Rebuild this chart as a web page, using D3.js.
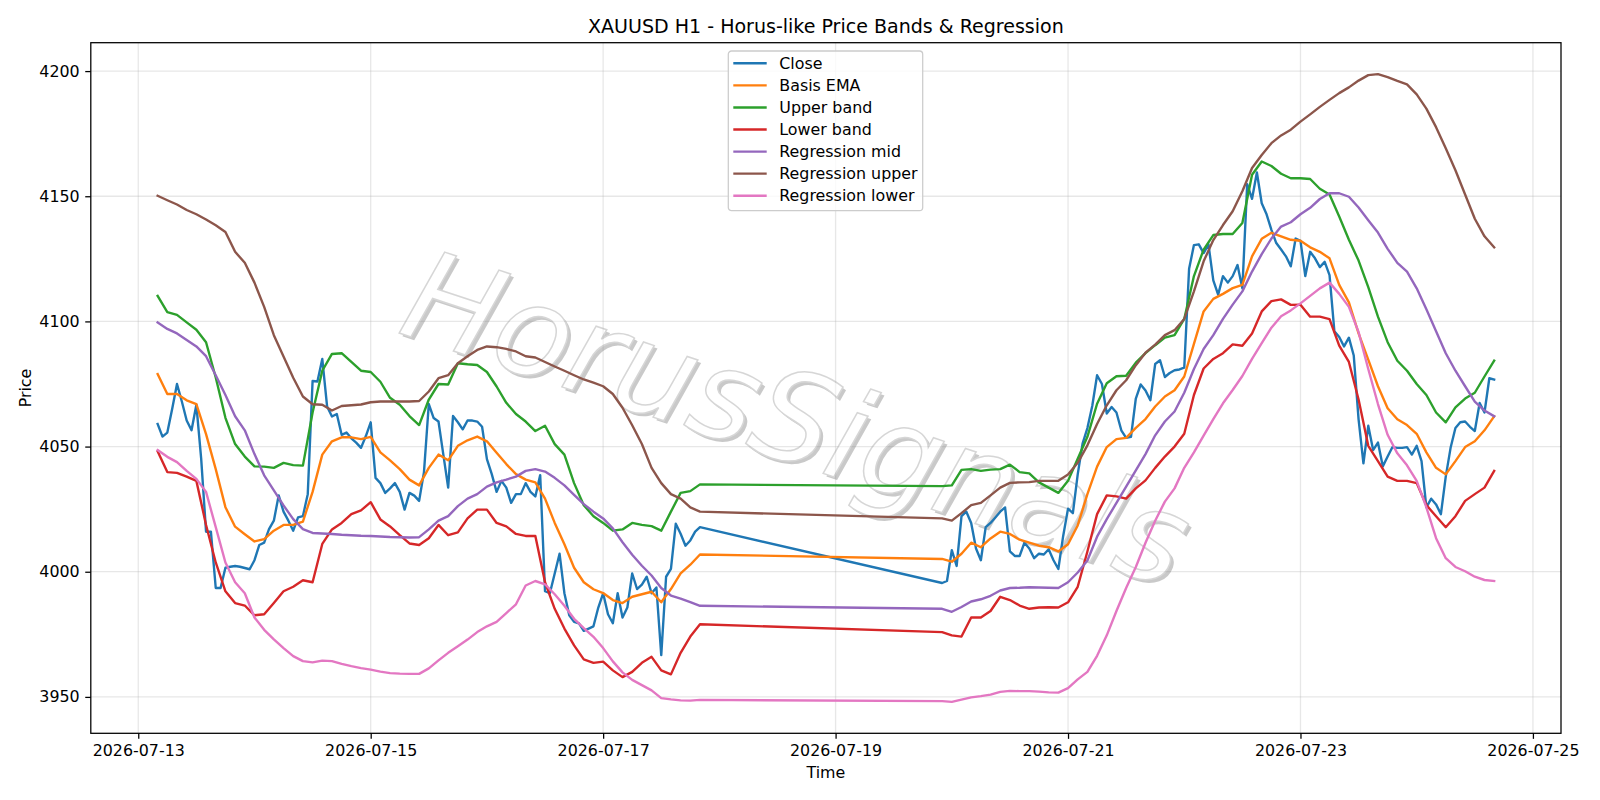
<!DOCTYPE html>
<html>
<head>
<meta charset="utf-8">
<script src="https://cdn.jsdelivr.net/npm/d3@7"></script>
<style>
	body { margin: 0; background: #fff; }
	svg { display: block; font-family: 'DejaVu Sans', sans-serif; }
</style>
</head>
<body>
<svg id="chart" width="1600" height="800"></svg>
<script>
	'use strict';

	// hours are counted from 2026-07-13 00:00, bars stop over the weekend
	var startDate = Date.UTC(2026, 6, 13);
	var hourSegments = [[4, 116], [166, 280]];
	var bandStep = 2;

	var tickDates = ['2026-07-13', '2026-07-15', '2026-07-17', '2026-07-19', '2026-07-21', '2026-07-23', '2026-07-25'];
	var priceTicks = [3950, 4000, 4050, 4100, 4150, 4200];

	var seriesNames = ['Close', 'Basis EMA', 'Upper band', 'Lower band', 'Regression mid', 'Regression upper', 'Regression lower'];
	var seriesColors = ['#1f77b4', '#ff7f0e', '#2ca02c', '#d62728', '#9467bd', '#8c564b', '#e377c2'];

	// hourly close
	var close = [
		4059, 4054, 4055.6, 4065, 4075, 4068, 4060.4, 4056.5, 4066.7, 4045,
		4016, 4016, 3993.5, 3993.5, 4001.6, 4002, 4002.3, 4002, 4001.5, 4001,
		4004.6, 4010.7, 4011.6, 4017, 4020.4, 4030.5, 4024, 4020.4, 4016.4, 4021.7,
		4022.2, 4031, 4076.2, 4076, 4085, 4066, 4062, 4063, 4054.7, 4055.6,
		4053.3, 4051.6, 4049.5, 4054.2, 4059.7, 4037.5, 4035.4, 4031.5, 4033.3, 4035.4,
		4031.9, 4024.8, 4031.5, 4030.4, 4028.3, 4039.8, 4067, 4061.4, 4060, 4046.8,
		4033.6, 4062.2, 4059.7, 4056.9, 4060.4, 4060.4, 4060, 4057.9, 4045, 4039,
		4031.9, 4036.3, 4033.6, 4027.5, 4031, 4031, 4035.4, 4031.9, 4030.1, 4038.6,
		3992.2, 3991.4, 3999.3, 4007.2, 3991.4, 3982.6, 3980, 3979.4, 3976.4, 3977.3,
		3978.2, 3985.7, 3991.4, 3983, 3979.4, 3991.4, 3981.7, 3985.7, 3999.3, 3993.1,
		3994.9, 3998, 3991.4, 3993.7, 3966.7, 3998, 4001.1, 4019.2, 4015.2, 4010.4,
		4012.5, 4016, 4017.8,
		3995.5, 3996.3, 4008.6, 4002.3, 4022.2, 4024, 4019.5, 4009.3, 4004.6, 4017.8,
		4019.5, 4021.7, 4024, 4025.7, 4008.1, 4006.3, 4006.3, 4011.6, 4009.3, 4005.4,
		4007.2, 4006.9, 4009, 4004.6, 4001.1, 4014.3, 4025.2, 4023.4, 4038.9, 4051.2,
		4057.4, 4066.2, 4078.5, 4075, 4063.2, 4065.8, 4063.6, 4056.5, 4053.5, 4053.9,
		4069.2, 4074.8, 4072.4, 4068.5, 4083, 4084.5, 4077.8, 4079.4, 4080.5, 4080.8,
		4081.5, 4121, 4130.5, 4130.8, 4127.3, 4130.8, 4116.4, 4110.7, 4118.1, 4115.5,
		4118.1, 4122.5, 4113.2, 4154.8, 4149, 4159.5, 4147.2, 4142.8, 4136.6, 4131.3,
		4128.7, 4126, 4122, 4133.1, 4132.2, 4118.1, 4127.8, 4125.2, 4121.7, 4123.8,
		4118.5, 4096.1, 4093.8, 4090, 4093.5, 4086.4, 4060.9, 4043.3, 4058.3, 4048.6,
		4051.6, 4042.1, 4046, 4049.8, 4049.5, 4049.5, 4049.8, 4046.8, 4050.3, 4044.2,
		4025.7, 4029.2, 4026.9, 4023, 4038, 4049.5, 4057.4, 4059.7, 4060, 4057.9,
		4056.2, 4067.4, 4063.6, 4077.3, 4076.8
	];

	// two-hourly band values
	var basisEma = [
		4079, 4071, 4071, 4068.5, 4067, 4055, 4041, 4025.8, 4018, 4015,
		4012.1, 4013, 4016.4, 4018.7, 4018.7, 4020, 4031.9, 4046.8, 4052.1, 4053.7,
		4053.7, 4053, 4053.9, 4047.7, 4044.5, 4041, 4036.8, 4034.5, 4041.5, 4046.8,
		4044.5, 4050.3, 4052.5, 4054, 4052.1, 4047.5, 4043, 4039, 4036.8, 4035.7,
		4029.2, 4019.5, 4011, 4001.6, 3995.8, 3993, 3991.5, 3988.7, 3987.5, 3990,
		3991, 3992, 3987.8, 3993.1, 3999.3, 4002.8, 4006.9,
		4005.1, 4004, 4007.2, 4011.6, 4009.8, 4013.3, 4016, 4015.1, 4012.8, 4011.6,
		4010.4, 4009.8, 4008.1, 4011, 4018.5, 4031, 4042, 4049.8, 4053, 4053.5,
		4057.5, 4061, 4066, 4070, 4072.5, 4078, 4091, 4104, 4109, 4111,
		4113.3, 4114.6, 4126, 4133, 4135.4, 4134, 4132.6, 4132.2, 4129.6, 4127.8,
		4125.2, 4114.6, 4107.6, 4095.2, 4084.7, 4074.1, 4065.3, 4060.9, 4058.6, 4055.1,
		4047.7, 4041.5, 4038.9, 4044.2, 4049.8, 4052.1, 4056.5, 4062.1
	];
	var upperBand = [
		4110.2, 4103.7, 4102.6, 4099.6, 4096.7, 4091.7, 4077.6, 4061.5, 4051, 4046,
		4042.1, 4042, 4041.5, 4043.5, 4042.6, 4042.4, 4063.6, 4080.3, 4087, 4087.3,
		4083.8, 4080.3, 4079.8, 4075.9, 4069.5, 4066.7, 4062.2, 4058.6, 4068.8, 4075,
		4074.8, 4083.3, 4082.9, 4082.6, 4079.8, 4074, 4067.5, 4063, 4060, 4056.2,
		4058.3, 4051, 4046.8, 4035.4, 4026.6, 4022.2, 4019.5, 4016.4, 4016.9, 4019.5,
		4018.7, 4018.2, 4016.4, 4024, 4031.5, 4032.2, 4034.9,
		4034.2, 4034.5, 4040.7, 4041, 4040.3, 4040.8, 4041, 4042.8, 4039.8, 4039.3,
		4035.7, 4033.6, 4031.5, 4036.3, 4045.1, 4053.9, 4067.1, 4075.3, 4078.1, 4078.3,
		4083.5, 4087.3, 4090.5, 4093.5, 4094.5, 4101, 4118.1, 4128.7, 4134.5, 4134.9,
		4134.9, 4139.3, 4158.6, 4163.9, 4162.1, 4159, 4157.2, 4157.2, 4156.9, 4153,
		4150.7, 4141.9, 4132.6, 4124.3, 4113.7, 4101.9, 4091.7, 4084.3, 4080.3, 4075,
		4070.6, 4063.6, 4059.7, 4065.7, 4069.2, 4071.5, 4078, 4084.3
	];
	var lowerBand = [
		4048.1, 4039.8, 4039.5, 4038, 4036.3, 4018.7, 4003.7, 3992.2, 3987.5, 3986.5,
		3982.6, 3983, 3987.5, 3992.2, 3994, 3996.6, 3995.8, 4011.1, 4016.9, 4019.5,
		4023, 4024.5, 4027.8, 4020.9, 4018.1, 4014.6, 4011.3, 4010.7, 4013.4, 4018.7,
		4014.6, 4015.7, 4021.3, 4024.8, 4024.8, 4019.5, 4018.1, 4015.1, 4014.3, 4014.3,
		3995.8, 3985.2, 3977.3, 3970.6, 3965, 3963.6, 3964.1, 3960.6, 3957.9, 3960,
		3963.6, 3966, 3960.6, 3959, 3967.6, 3974.1, 3979,
		3975.9, 3974.6, 3974.1, 3981.7, 3981.7, 3984.3, 3990, 3988.7, 3986.5, 3985.2,
		3985.7, 3985.8, 3985.7, 3987.8, 3994, 4008.1, 4023, 4030.5, 4030.1, 4029.2,
		4033.3, 4036.5, 4041.5, 4046, 4050, 4055.1, 4070.6, 4081.2, 4085, 4087.3,
		4090.8, 4090.3, 4095.2, 4104, 4108.1, 4108.8, 4106.6, 4106.7, 4101.9, 4101.9,
		4100.9, 4090.3, 4083.8, 4068.8, 4050.3, 4044.2, 4038, 4036.3, 4036.3, 4035.4,
		4026.6, 4022.2, 4017.8, 4022.2, 4028.3, 4031, 4033.6, 4040.3
	];
	var regMid = [
		4099.6, 4097, 4095.2, 4092.6, 4090, 4086.1, 4078.5, 4070.6, 4062.1, 4056.5,
		4047, 4038.5, 4032.5, 4026.5, 4021, 4017, 4015.5, 4015.3, 4015.1, 4014.8,
		4014.6, 4014.4, 4014.3, 4014.1, 4013.9, 4013.8, 4013.7, 4013.8, 4016.9, 4020.4,
		4022.2, 4026.2, 4029.2, 4031, 4034, 4035.7, 4036.8, 4038, 4040.3, 4041,
		4040, 4037.5, 4034.5, 4030.7, 4027, 4024, 4021.3, 4017.3, 4011.8, 4006.8,
		4002.4, 3998.5, 3993.5, 3990.5, 3989.3, 3987.9, 3986.4,
		3985.2, 3984, 3985.9, 3988.1, 3989, 3990.4, 3992.5, 3993.5, 3993.6, 3993.8,
		3993.7, 3993.6, 3993.5, 3995.8, 3999.7, 4004.5, 4014, 4021, 4027.5, 4034,
		4040.5, 4047, 4054.5, 4060, 4064, 4071.5, 4081, 4089, 4094.5, 4101,
		4106.7, 4112, 4119.9, 4126.9, 4133.1, 4137.9, 4139.6, 4142.8, 4145.4, 4148.9,
		4151.2, 4151.2, 4149.8, 4145.5, 4140.4, 4135.5, 4129, 4123.4, 4119.9, 4113.2,
		4104.9, 4096.1, 4087.3, 4080.3, 4074.1, 4068, 4064.4, 4062.1
	];
	var regUpper = [
		4150.2, 4148.4, 4146.7, 4144.5, 4142.8, 4140.7, 4138.4, 4135.7, 4127.8, 4123.4,
		4115.5, 4105.8, 4094.5, 4086, 4077.5, 4070, 4066.9, 4066.7, 4064.4, 4066.2,
		4066.5, 4066.8, 4067.7, 4068, 4068, 4068, 4068, 4068.2, 4072, 4077.3,
		4078.5, 4083.3, 4086.1, 4088.6, 4090, 4089.7, 4089, 4088, 4086.1, 4085.6,
		4083.8, 4082, 4080.3, 4078.5, 4076.8, 4075.5, 4074.1, 4071, 4065.5, 4058.5,
		4051, 4041.5, 4035.4, 4031, 4029.2, 4025.7, 4024,
		4021.3, 4020.4, 4023.4, 4026.6, 4027.5, 4030.5, 4033.6, 4035.5, 4035.7, 4035.8,
		4036.3, 4036.3, 4036.3, 4038.8, 4043.5, 4050.5, 4059, 4066.5, 4072.5, 4076.5,
		4082.5, 4087.5, 4090.7, 4094.5, 4096.5, 4101, 4112, 4124, 4132.5, 4138.5,
		4144, 4152, 4161.3, 4166.5, 4171.2, 4174.3, 4176.6, 4179.8, 4182.7, 4185.7,
		4188.5, 4191.2, 4193.5, 4196.2, 4198.4, 4198.8, 4197.6, 4196.1, 4194.7, 4190.7,
		4185, 4177.6, 4169.2, 4160.4, 4150.7, 4141, 4134, 4129.6
	];
	var regLower = [
		4048.6, 4045.9, 4043.8, 4040.3, 4037.1, 4031.9, 4017.8, 4003.7, 3995.8, 3991.4,
		3981.7, 3976.8, 3973, 3969.5, 3966.3, 3964.3, 3963.8, 3964.5, 3964.3, 3963.2,
		3962.3, 3961.5, 3960.9, 3960.1, 3959.5, 3959.3, 3959.2, 3959.2, 3961.4, 3964.6,
		3967.6, 3970.2, 3972.9, 3975.9, 3978.2, 3980, 3983.5, 3987, 3994.5, 3996.3,
		3995, 3991, 3986.4, 3981.2, 3977.5, 3974, 3969.5, 3964.2, 3959.8, 3956.8,
		3954.7, 3952.6, 3949.5, 3949, 3948.6, 3948.5, 3948.8,
		3948.3, 3948, 3948.9, 3949.8, 3950.3, 3950.9, 3952, 3952.4, 3952.3, 3952.3,
		3952.1, 3951.8, 3951.7, 3953.5, 3957, 3960, 3966.4, 3974.6, 3984.3, 3993.5,
		4001.9, 4011.6, 4020.4, 4028, 4033.3, 4041.5, 4047.7, 4054.4, 4061, 4067.3,
		4072.6, 4078.2, 4085, 4091.3, 4097.5, 4102.1, 4104.4, 4107.2, 4110.2, 4113.2,
		4115.5, 4111, 4105.8, 4095.7, 4081, 4067, 4054.7, 4047.3, 4042.5, 4036.3,
		4025.7, 4013.4, 4005.4, 4001.9, 4000.2, 3998, 3996.7, 3996.3
	];

	var hoursOf = function (step) {
		var out = [];
		hourSegments.forEach(function (s) {
			for (var h = s[0]; h <= s[1]; h += step) { out.push(h); }
		});
		return out;
	};

	var toDate = function (h) { return new Date(startDate + h * 3600e3); };

	var closeTimes = hoursOf(1).map(toDate),
		bandTimes = hoursOf(bandStep).map(toDate);

	var seriesData = [close, basisEma, upperBand, lowerBand, regMid, regUpper, regLower].map(function (vals, i) {
		var times = i === 0 ? closeTimes : bandTimes;
		return vals.map(function (v, j) { return [times[j], v]; });
	});

	var margin = { top: 42.7, right: 39, bottom: 66.7, left: 90.8 },
		width = 1600 - margin.left - margin.right,
		height = 800 - margin.top - margin.bottom;

	var fontSize = 15.87,
		lineW = 2.38,
		tickLen = 5.56;

	// matplotlib style 5% padding on both axes
	var tExtent = d3.extent(closeTimes),
		tPad = (tExtent[1] - tExtent[0]) * 0.05,
		allVals = [].concat.apply([], seriesData.map(function (s) { return s.map(function (d) { return d[1]; }); })),
		vExtent = d3.extent(allVals),
		vPad = (vExtent[1] - vExtent[0]) * 0.05;

	var xScale = d3.scaleUtc()
			.domain([new Date(+tExtent[0] - tPad), new Date(+tExtent[1] + tPad)])
			.range([0, width]),
		yScale = d3.scaleLinear()
			.domain([vExtent[0] - vPad, vExtent[1] + vPad])
			.range([height, 0]);

	var tickTimes = tickDates.map(d3.utcParse('%Y-%m-%d'));

	var svg = d3.select('#chart');

	svg.append('text')
		.attr('x', margin.left + width / 2)
		.attr('y', 33)
		.attr('text-anchor', 'middle')
		.style('font-size', '19.05px')
		.text('XAUUSD H1 - Horus-like Price Bands & Regression');

	// GRID
	var grid = svg.append('g')
		.attr('class', 'grid-lines')
		.attr('transform', 'translate(' + margin.left + ',' + margin.top + ')');
	grid.selectAll('line.gx')
		.data(tickTimes)
		.enter().append('line')
		.attr('x1', function (d) { return xScale(d); })
		.attr('x2', function (d) { return xScale(d); })
		.attr('y1', 0)
		.attr('y2', height);
	grid.selectAll('line.gy')
		.data(priceTicks)
		.enter().append('line')
		.attr('x1', 0)
		.attr('x2', width)
		.attr('y1', function (d) { return yScale(d); })
		.attr('y2', function (d) { return yScale(d); });
	grid.selectAll('line')
		.attr('stroke', '#b0b0b0')
		.attr('stroke-opacity', 0.3)
		.attr('stroke-width', 1.27);

	// WATERMARK (baseline middle point, rotated down to the right)
	var wmX = 783, wmY = 460, wmAngle = 18.3;
	var wm = svg.append('g')
		.attr('opacity', 0.42)
		.style('font-size', '125px')
		.style('font-style', 'oblique');
	wm.append('text')
		.attr('transform', 'translate(' + (wmX + 3.2) + ',' + (wmY + 3.2) + ') rotate(' + wmAngle + ')')
		.attr('text-anchor', 'middle')
		.attr('fill', '#808080')
		.text('HorusSignals');
	wm.append('text')
		.attr('transform', 'translate(' + wmX + ',' + wmY + ') rotate(' + wmAngle + ')')
		.attr('text-anchor', 'middle')
		.attr('fill', '#fff')
		.attr('stroke', '#a0a0a0')
		.attr('stroke-width', 1.5)
		.text('HorusSignals');

	var g = svg.append('g')
		.attr('transform', 'translate(' + margin.left + ',' + margin.top + ')');

	// LINES
	var line = d3.line()
		.x(function (d) { return xScale(d[0]); })
		.y(function (d) { return yScale(d[1]); });

	g.selectAll('path.series')
		.data(seriesData)
		.enter().append('path')
		.attr('class', 'series')
		.attr('fill', 'none')
		.attr('stroke', function (d, i) { return seriesColors[i]; })
		.attr('stroke-width', lineW)
		.attr('stroke-linejoin', 'round')
		.attr('stroke-linecap', 'square')
		.attr('d', line);

	// AXES
	var axisBottom = g.append('g')
		.attr('transform', 'translate(0,' + height + ')')
		.call(d3.axisBottom(xScale).tickValues(tickTimes).tickFormat(d3.utcFormat('%Y-%m-%d')).tickSize(tickLen).tickPadding(tickLen));
	var axisLeft = g.append('g')
		.call(d3.axisLeft(yScale).tickValues(priceTicks).tickFormat(d3.format('d')).tickSize(tickLen).tickPadding(tickLen));

	[axisBottom, axisLeft].forEach(function (a) {
		a.select('.domain').remove();
		a.selectAll('.tick line').attr('stroke', '#000').attr('stroke-width', 1.27);
		a.selectAll('.tick text').attr('fill', '#000').style('font-size', fontSize + 'px').style('font-family', 'DejaVu Sans');
	});

	g.append('rect')
		.attr('width', width)
		.attr('height', height)
		.attr('fill', 'none')
		.attr('stroke', '#000')
		.attr('stroke-width', 1.27);

	svg.append('text')
		.attr('x', margin.left + width / 2)
		.attr('y', 777.5)
		.attr('text-anchor', 'middle')
		.style('font-size', fontSize + 'px')
		.text('Time');

	svg.append('text')
		.attr('transform', 'translate(25,' + (margin.top + height / 2) + ') rotate(-90)')
		.attr('text-anchor', 'middle')
		.attr('dy', '0.35em')
		.style('font-size', fontSize + 'px')
		.text('Price');

	// LEGEND
	var legend = svg.append('g').attr('transform', 'translate(728.3,51)');
	legend.append('rect')
		.attr('width', 194.4)
		.attr('height', 159.7)
		.attr('rx', 3.2)
		.attr('fill', '#fff')
		.attr('fill-opacity', 0.8)
		.attr('stroke', '#cccccc')
		.attr('stroke-width', 1.27);

	var items = legend.selectAll('g.item')
		.data(seriesNames)
		.enter().append('g')
		.attr('class', 'item')
		.attr('transform', function (d, i) { return 'translate(0,' + (12.3 + i * 22.07) + ')'; });
	items.append('line')
		.attr('x1', 5)
		.attr('x2', 38.4)
		.attr('stroke', function (d, i) { return seriesColors[i]; })
		.attr('stroke-width', lineW);
	items.append('text')
		.attr('x', 51)
		.attr('dy', '0.36em')
		.style('font-size', fontSize + 'px')
		.text(function (d) { return d; });
</script>
</body>
</html>
